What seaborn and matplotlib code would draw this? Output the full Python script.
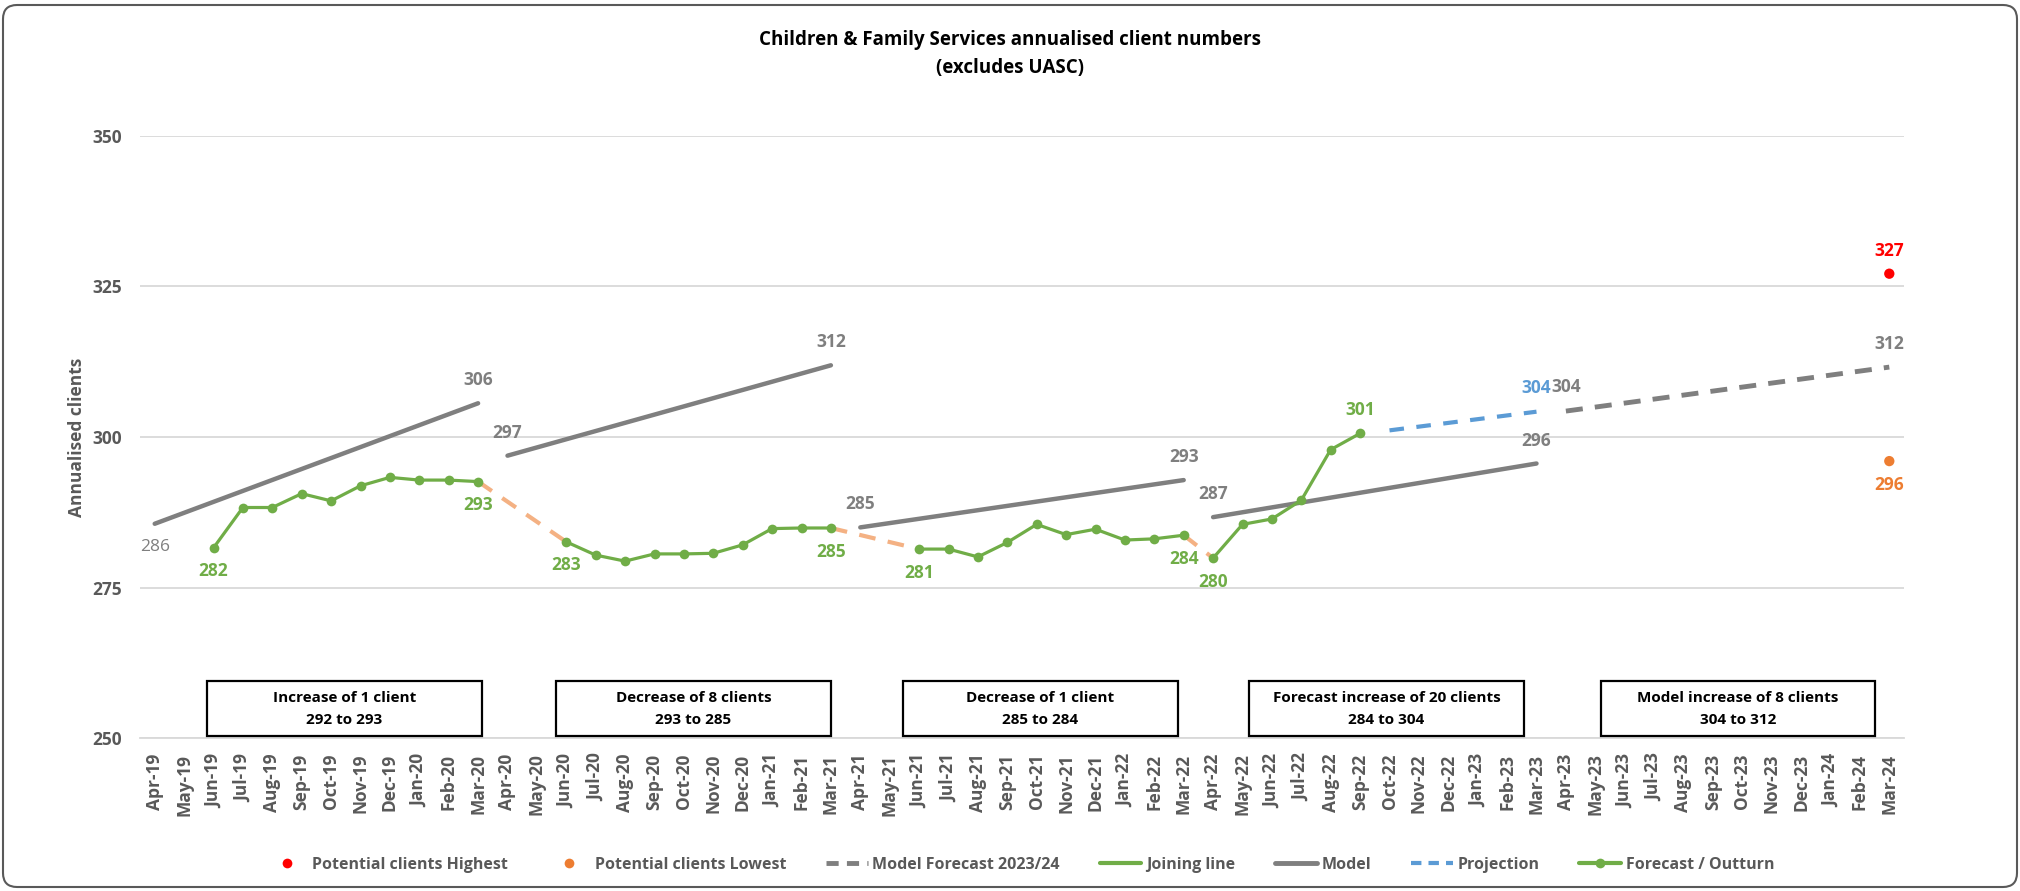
import numpy as np
import pandas as pd
import seaborn as sns
import matplotlib
matplotlib.use("Agg")
import matplotlib.pyplot as plt
from matplotlib.patches import Rectangle, FancyBboxPatch
from matplotlib.lines import Line2D
from matplotlib.transforms import IdentityTransform

# ---------------- data ----------------
months = ["Apr-19", "May-19", "Jun-19", "Jul-19", "Aug-19", "Sep-19", "Oct-19", "Nov-19", "Dec-19", "Jan-20", "Feb-20", "Mar-20",
          "Apr-20", "May-20", "Jun-20", "Jul-20", "Aug-20", "Sep-20", "Oct-20", "Nov-20", "Dec-20", "Jan-21", "Feb-21", "Mar-21",
          "Apr-21", "May-21", "Jun-21", "Jul-21", "Aug-21", "Sep-21", "Oct-21", "Nov-21", "Dec-21", "Jan-22", "Feb-22", "Mar-22",
          "Apr-22", "May-22", "Jun-22", "Jul-22", "Aug-22", "Sep-22", "Oct-22", "Nov-22", "Dec-22", "Jan-23", "Feb-23", "Mar-23",
          "Apr-23", "May-23", "Jun-23", "Jul-23", "Aug-23", "Sep-23", "Oct-23", "Nov-23", "Dec-23", "Jan-24", "Feb-24", "Mar-24"]

# Forecast / Outturn, split by financial year
outturn_1920_months = ["Jun-19", "Jul-19", "Aug-19", "Sep-19", "Oct-19", "Nov-19", "Dec-19", "Jan-20", "Feb-20", "Mar-20"]
outturn_1920 = [281.6, 288.3, 288.3, 290.6, 289.4, 291.9, 293.3, 292.85, 292.85, 292.6]
outturn_2021_months = ["Jun-20", "Jul-20", "Aug-20", "Sep-20", "Oct-20", "Nov-20", "Dec-20", "Jan-21", "Feb-21", "Mar-21"]
outturn_2021 = [282.6, 280.4, 279.4, 280.6, 280.6, 280.7, 282.1, 284.8, 284.9, 284.9]
outturn_2122_months = ["Jun-21", "Jul-21", "Aug-21", "Sep-21", "Oct-21", "Nov-21", "Dec-21", "Jan-22", "Feb-22", "Mar-22"]
outturn_2122 = [281.4, 281.4, 280.1, 282.5, 285.5, 283.8, 284.7, 282.9, 283.1, 283.7]
outturn_2223_months = ["Apr-22", "May-22", "Jun-22", "Jul-22", "Aug-22", "Sep-22"]
outturn_2223 = [279.9, 285.5, 286.4, 289.5, 297.9, 300.6]

# Joining lines (from / to month)
join_from = ["Mar-20", "Mar-21", "Mar-22"]
join_to = ["Jun-20", "Jun-21", "Apr-22"]

# Model lines (start / end)
model_start_months = ["Apr-19", "Apr-20", "Apr-21", "Apr-22"]
model_end_months = ["Mar-20", "Mar-21", "Mar-22", "Mar-23"]
model_start_vals = [285.6, 296.9, 285.0, 286.7]
model_end_vals = [305.6, 311.9, 292.85, 295.6]

# Projection
proj_months = ["Oct-22", "Mar-23"]
proj_vals = [301.1, 304.2]

# Model forecast 2023/24
mf_months = ["Apr-23", "Mar-24"]
mf_vals = [304.3, 311.6]

# Potential clients
pot_month = "Mar-24"
pot_high = 327.1
pot_low = 296.0

# Annotation boxes
box_texts = ["Increase of 1 client\n292 to 293",
             "Decrease of 8 clients\n293 to 285",
             "Decrease of 1 client\n285 to 284",
             "Forecast increase of 20 clients\n284 to 304",
             "Model increase of 8 clients\n304 to 312"]

# ---------------- style ----------------
GREEN = "#70AD47"
GREY = "#7F7F7F"
BLUE = "#5B9BD5"
ORANGE = "#ED7D31"
JOIN = "#F4B183"
RED = "#FF0000"
TXT = "#595959"

sns.set_theme(style="white")
plt.rcParams["font.family"] = ["Open Sans", "DejaVu Sans"]
plt.rcParams["font.weight"] = "bold"

pos = {m: i for i, m in enumerate(months)}
all_vals = dict()
for ms, vs in [(outturn_1920_months, outturn_1920), (outturn_2021_months, outturn_2021),
               (outturn_2122_months, outturn_2122), (outturn_2223_months, outturn_2223)]:
    for m, v in zip(ms, vs):
        all_vals[m] = v

fig = plt.figure(figsize=(20.2, 8.91), dpi=100)
ax = fig.add_axes([140 / 2020, 1 - 738.3 / 891, 1764 / 2020, (738.3 - 135.7) / 891])

# outturn dataframe
rows = []
for seg, (ms, vs) in enumerate([(outturn_1920_months, outturn_1920), (outturn_2021_months, outturn_2021),
                                 (outturn_2122_months, outturn_2122), (outturn_2223_months, outturn_2223)]):
    for m, v in zip(ms, vs):
        rows.append({"x": pos[m], "y": v, "seg": seg})
df_out = pd.DataFrame(rows)

# joining lines
jrows = []
for seg, (a, b) in enumerate(zip(join_from, join_to)):
    jrows.append({"x": pos[a], "y": all_vals[a], "seg": seg})
    jrows.append({"x": pos[b], "y": all_vals[b], "seg": seg})
df_join = pd.DataFrame(jrows)
for seg, g in df_join.groupby("seg"):
    sns.lineplot(data=g, x="x", y="y", ax=ax, color=JOIN, lw=3, zorder=2,
                 dashes=False, linestyle=(0, (4, 3)))

# model lines
mrows = []
for seg in range(len(model_start_months)):
    mrows.append({"x": pos[model_start_months[seg]], "y": model_start_vals[seg], "seg": seg})
    mrows.append({"x": pos[model_end_months[seg]], "y": model_end_vals[seg], "seg": seg})
df_model = pd.DataFrame(mrows)
sns.lineplot(data=df_model, x="x", y="y", units="seg", estimator=None, ax=ax,
             color=GREY, lw=3.2, zorder=3)

# outturn
sns.lineplot(data=df_out, x="x", y="y", units="seg", estimator=None, ax=ax,
             color=GREEN, lw=2.3, marker="o", markersize=7, markeredgewidth=0, zorder=4)

# projection
df_proj = pd.DataFrame({"x": [pos[m] for m in proj_months], "y": proj_vals})
sns.lineplot(data=df_proj, x="x", y="y", ax=ax, color=BLUE, lw=3, linestyle=(0, (3.5, 3)), zorder=3)

# model forecast
df_mf = pd.DataFrame({"x": [pos[m] for m in mf_months], "y": mf_vals})
sns.lineplot(data=df_mf, x="x", y="y", ax=ax, color=GREY, lw=3.5, linestyle=(0, (3.5, 2.5)), zorder=3)

# potential points
df_pot = pd.DataFrame({"x": [pos[pot_month], pos[pot_month]], "y": [pot_high, pot_low], "k": ["h", "l"]})
sns.scatterplot(data=df_pot, x="x", y="y", hue="k", palette={"h": RED, "l": ORANGE},
                s=55, linewidth=0, ax=ax, legend=False, zorder=5)

# ---------------- labels ----------------
def lab(m, v, dy, color, weight="bold"):
    ax.annotate(f"{v:.0f}", (pos[m], v), xytext=(0, dy), textcoords="offset points",
                ha="center", va="center", color=color, fontsize=12.5, fontweight=weight, zorder=6)

for m in ["Jun-19", "Mar-20", "Jun-20", "Mar-21", "Jun-21", "Mar-22", "Apr-22"]:
    lab(m, all_vals[m], -17, GREEN)
lab("Sep-22", all_vals["Sep-22"], 16.5, GREEN)

lab(model_start_months[0], model_start_vals[0], -17, GREY, weight="normal")
for i in range(1, len(model_start_months)):
    lab(model_start_months[i], model_start_vals[i], 16.5, GREY)
for i in range(len(model_end_months)):
    lab(model_end_months[i], model_end_vals[i], 16.5, GREY)
lab(proj_months[1], proj_vals[1], 17, BLUE)
lab(mf_months[0], mf_vals[0], 17, GREY)
lab(mf_months[1], mf_vals[1], 16.5, GREY)
lab(pot_month, pot_high, 16, RED)
lab(pot_month, pot_low, -17, ORANGE)

# ---------------- boxes ----------------
box_lefts = [1.77, 13.65, 25.45, 37.22, 49.18]
box_width = 9.35
for bl, t in zip(box_lefts, box_texts):
    ax.add_patch(Rectangle((bl, 250.4), box_width, 9.1, facecolor="white", edgecolor="black",
                           lw=1.6, zorder=6, clip_on=False))
    ax.text(bl + box_width / 2, 254.9, t, ha="center", va="center", fontsize=11,
            fontweight="bold", color="black", linespacing=1.7, zorder=7)

# ---------------- axes ----------------
ax.set_xlim(-0.5, len(months) - 0.5)
ax.set_ylim(250, 350)
ax.set_yticks([250, 275, 300, 325, 350])
ax.set_xticks(range(len(months)))
ax.set_xticklabels(months, rotation=90, fontsize=12.5, fontweight="bold", color=TXT)
ax.set_xticks(np.arange(len(months) + 1) - 0.5, minor=True)
ax.tick_params(axis="x", which="major", length=0, pad=11)
ax.tick_params(axis="x", which="minor", length=6, color="#D9D9D9", width=1.2, direction="out")
ax.tick_params(axis="y", length=0, pad=13, labelsize=12.5, labelcolor=TXT)
for t in ax.get_yticklabels():
    t.set_fontweight("bold")
ax.set_xlabel("")
ax.set_ylabel("")
ax.grid(axis="y", color="#D9D9D9", lw=1.3)
ax.grid(axis="x", visible=False)
for s in ["top", "right", "left"]:
    ax.spines[s].set_visible(False)
ax.spines["bottom"].set_color("#D9D9D9")
ax.spines["bottom"].set_linewidth(1.3)

fig.text(77 / 2020, 1 - 437 / 891, "Annualised clients", rotation=90, ha="center", va="center",
         fontsize=12.5, fontweight="bold", color=TXT)
fig.text(0.5, 1 - 54 / 891, "Children & Family Services annualised client numbers\n(excludes UASC)",
         ha="center", va="center", fontsize=13.5, fontweight="bold", color="black", linespacing=1.6)

# ---------------- legend ----------------
handles = [
    Line2D([], [], marker="o", ls="", color=RED, markersize=7, markeredgewidth=0),
    Line2D([], [], marker="o", ls="", color=ORANGE, markersize=7, markeredgewidth=0),
    Line2D([], [], color=GREY, lw=3.5, linestyle=(0, (2.5, 1.7))),
    Line2D([], [], color=GREEN, lw=3),
    Line2D([], [], color=GREY, lw=3.5),
    Line2D([], [], color=BLUE, lw=3, linestyle=(0, (2.5, 1.7))),
    Line2D([], [], color=GREEN, lw=3, marker="o", markersize=7, markeredgewidth=0),
]
labels = ["Potential clients Highest", "Potential clients Lowest", "Model Forecast 2023/24",
          "Joining line", "Model", "Projection", "Forecast / Outturn"]
leg = fig.legend(handles, labels, loc="center", bbox_to_anchor=(0.505, 1 - 865 / 891), ncol=7,
                 frameon=False, handlelength=2.6, handletextpad=0.3,
                 columnspacing=2.5, prop={"weight": "bold", "size": 11.5})
for t in leg.get_texts():
    t.set_color(TXT)

# outer rounded border
fig.patches.append(FancyBboxPatch((3, 4), 2014, 882, boxstyle="round,pad=0,rounding_size=14",
                                  transform=IdentityTransform(), fill=False, ec="#595959", lw=1.5))

fig.savefig("out.png", dpi=100)
